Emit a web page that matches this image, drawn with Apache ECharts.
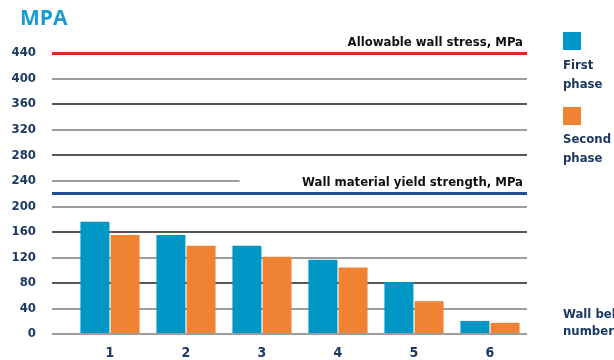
<!DOCTYPE html>
<html lang="en">
<head>
    <meta charset="UTF-8">
    <title>Wall stress</title>
    <style>
        body { margin: 0; background: #fff; }
    </style>
</head>
<body>
    <div id="chart" style="width:614px; height:360px"></div>

    <script src="https://cdn.jsdelivr.net/npm/echarts@6/dist/echarts.min.js"></script>
    <script>
        // data
        const beltNumbers = ['1', '2', '3', '4', '5', '6'];
        const firstPhase = [175, 154, 137, 115, 80, 19];
        const secondPhase = [154, 137, 120, 103, 50, 16];
        const seriesNames = ['First\nphase', 'Second\nphase'];
        const allowableStress = 440;
        const yieldStrength = 220;
        const yTicks = { min: 0, max: 440, step: 40 };

        const FONT = '"DejaVu Sans Condensed", "Liberation Sans Narrow", sans-serif';
        const NAVY = '#1b3961';
        const BLUE = '#0096c6';
        const ORANGE = '#ef8233';
        const GRAY = '#7d7d7d', DARK = '#1e1e1e';

        const chart = echarts.init(document.getElementById('chart'));

        chart.setOption({
            animation: false,
            title: {
                text: 'MPA',
                left: 15, top: 4,
                textStyle: { color: '#1a9bd0', fontSize: 21, fontWeight: 'bold', fontFamily: '"Open Sans", sans-serif' }
            },
            grid: [
                { left: 52, right: 87, top: 53, bottom: 26 },   // gridlines + reference lines
                { left: 72, right: 86, top: 53, bottom: 26 }    // bars
            ],
            xAxis: [
                { type: 'value', gridIndex: 0, min: 0, max: 1, show: false },
                {
                    type: 'category', gridIndex: 1, data: beltNumbers,
                    axisLine: { show: false }, axisTick: { show: false },
                    axisLabel: { color: NAVY, fontSize: 14, fontWeight: 'bold', fontFamily: FONT, margin: 13 }
                }
            ],
            yAxis: [
                {
                    type: 'value', gridIndex: 0, min: yTicks.min, max: yTicks.max, interval: yTicks.step,
                    axisLine: { show: false }, axisTick: { show: false },
                    axisLabel: { color: NAVY, fontSize: 13, fontWeight: 'bold', fontFamily: FONT, margin: 16 },
                    splitLine: {
                        show: true,
                        lineStyle: {
                            width: 1.5,
                            // 0,40,80,...,440 ; 240 is drawn short below, 440 is the red line
                            color: [GRAY, GRAY, DARK, GRAY, DARK, GRAY, 'rgba(0,0,0,0)', DARK, GRAY, DARK, GRAY, 'rgba(0,0,0,0)']
                        }
                    }
                },
                { type: 'value', gridIndex: 1, min: yTicks.min, max: yTicks.max, interval: yTicks.step, show: false, splitLine: { show: false } }
            ],
            graphic: [
                { type: 'rect', left: 563, top: 32, shape: { width: 18, height: 18 }, style: { fill: BLUE } },
                { type: 'text', left: 563, top: 56, style: { text: seriesNames[0], fill: NAVY, font: 'bold 13px ' + FONT, lineHeight: 19 } },
                { type: 'rect', left: 563, top: 107, shape: { width: 18, height: 18 }, style: { fill: ORANGE } },
                { type: 'text', left: 563, top: 130, style: { text: seriesNames[1], fill: NAVY, font: 'bold 13px ' + FONT, lineHeight: 19 } },
                { type: 'text', left: 563, top: 306, style: { text: 'Wall belt\nnumber', fill: NAVY, font: 'bold 13px ' + FONT, lineHeight: 17 } }
            ],
            series: [
                {
                    type: 'line', xAxisIndex: 0, yAxisIndex: 0, data: [],
                    markLine: {
                        silent: true, symbol: ['none', 'none'],
                        label: { position: 'insideEndTop', color: '#111', fontSize: 13, fontWeight: 'bold', fontFamily: FONT, distance: 4 },
                        data: [
                            [{ coord: [0, 240] }, { coord: [0.395, 240], lineStyle: { color: GRAY, width: 1.5, type: 'solid' }, label: { show: false } }],
                            { yAxis: allowableStress, lineStyle: { color: '#e5261f', width: 3, type: 'solid' }, label: { formatter: 'Allowable wall stress, MPa' } },
                            { yAxis: yieldStrength, lineStyle: { color: '#1f4f8e', width: 3, type: 'solid' }, label: { formatter: 'Wall material yield strength, MPa' } }
                        ]
                    }
                },
                {
                    name: 'First phase', type: 'bar', xAxisIndex: 1, yAxisIndex: 1,
                    data: firstPhase, barWidth: 29, barGap: '4%',
                    itemStyle: { color: BLUE }
                },
                {
                    name: 'Second phase', type: 'bar', xAxisIndex: 1, yAxisIndex: 1,
                    data: secondPhase, barWidth: 29, barGap: '4%',
                    itemStyle: { color: ORANGE }
                }
            ]
        });
    </script>
</body>
</html>
